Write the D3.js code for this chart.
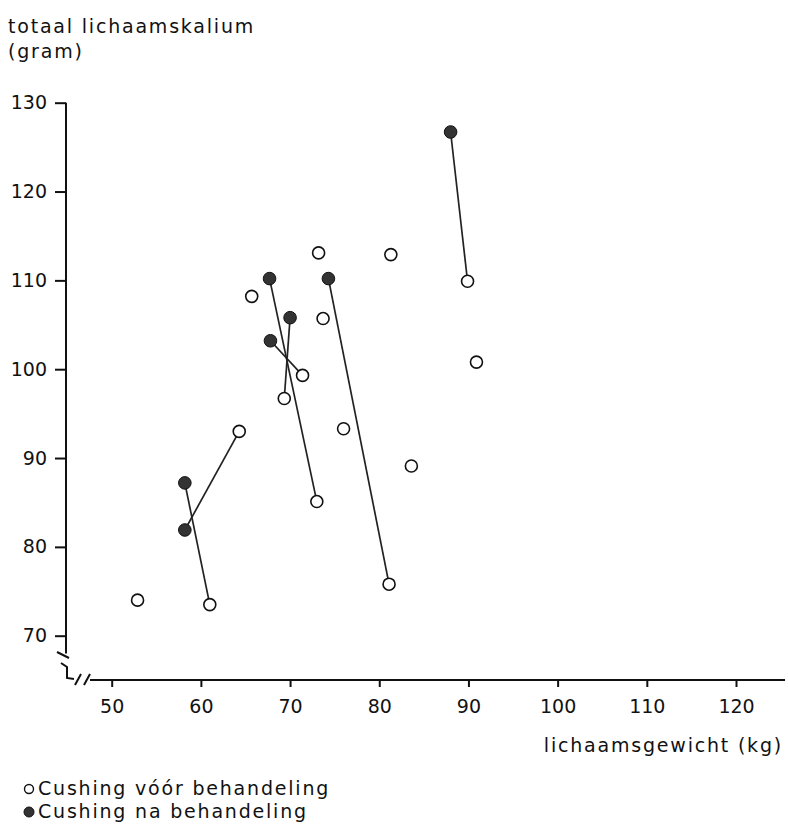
<!DOCTYPE html>
<html>
<head>
<meta charset="utf-8">
<script src="https://cdn.jsdelivr.net/npm/d3@7"></script>
<style>
  body { margin: 0; background: #fff; }
  text { font-family: "DejaVu Sans", sans-serif; fill: #111; }
</style>
</head>
<body>
<div id="chartcontainer"></div>
<script>
// lichaamsgewicht (kg) en totaal lichaamskalium (gram)
// the first 7 "voor" patients have a matching "na" point
var voorGewicht = [61.0, 64.3, 73.0, 69.35, 71.4, 81.1, 89.9, 52.9, 65.7, 73.2, 81.3, 73.7, 76.0, 83.6, 90.9],
    voorKalium  = [73.5, 93.0, 85.1, 96.7, 99.3, 75.8, 109.9, 74.0, 108.2, 113.1, 112.9, 105.7, 93.3, 89.1, 100.8];

var naGewicht = [58.2, 58.2, 67.7, 70.0, 67.8, 74.3, 88.0],
    naKalium  = [87.2, 81.9, 110.2, 105.8, 103.2, 110.2, 126.7];

var xTicks = [50, 60, 70, 80, 90, 100, 110, 120],
    yTicks = [70, 80, 90, 100, 110, 120, 130];

var legendLabels = ["Cushing vóór behandeling", "Cushing na behandeling"];

var width = 788, height = 829;

var x = d3.scaleLinear().domain([50, 120]).range([111.7, 736]),
    y = d3.scaleLinear().domain([70, 130]).range([635.7, 102.7]);

var axisX = 66, axisY = 680;

var labelFont = "19px", labelSpacing = "1.8px";

var svg = d3.select("#chartcontainer").append("svg")
    .attr("width", width)
    .attr("height", height);

// titel van de y-as
svg.append("text").attr("x", 8).attr("y", 33)
    .style("font-size", labelFont).style("letter-spacing", labelSpacing)
    .text("totaal lichaamskalium");
svg.append("text").attr("x", 8).attr("y", 58)
    .style("font-size", labelFont).style("letter-spacing", labelSpacing)
    .text("(gram)");

// y-as
svg.append("line")
    .attr("x1", axisX).attr("x2", axisX)
    .attr("y1", y(130)).attr("y2", y(68))
    .attr("stroke", "#111").attr("stroke-width", 2);

var gy = svg.append("g")
    .attr("transform", "translate(" + axisX + ",0)")
    .call(d3.axisLeft(y).tickValues(yTicks).tickSize(11).tickPadding(8).tickSizeOuter(0));
gy.select(".domain").remove();
gy.selectAll(".tick line").attr("stroke", "#111").attr("stroke-width", 2);
gy.selectAll(".tick text")
    .style("font-size", "19px").style("font-family", "DejaVu Sans, sans-serif");

// x-as
svg.append("line")
    .attr("x1", 90).attr("x2", x(125.5))
    .attr("y1", axisY).attr("y2", axisY)
    .attr("stroke", "#111").attr("stroke-width", 2);

var gx = svg.append("g")
    .attr("transform", "translate(0," + axisY + ")")
    .call(d3.axisBottom(x).tickValues(xTicks).tickSize(7).tickPadding(13).tickSizeOuter(0));
gx.select(".domain").remove();
gx.selectAll(".tick line").attr("stroke", "#111").attr("stroke-width", 2);
gx.selectAll(".tick text")
    .style("font-size", "19px").style("font-family", "DejaVu Sans, sans-serif");

// asbreuk
var brk = svg.append("g").attr("stroke", "#111").attr("stroke-width", 2).attr("fill", "none");
brk.append("path").attr("d", "M57,652 L69,658");
brk.append("path").attr("d", "M61,663 L67,667 L67,678 L74,679");
brk.append("path").attr("d", "M75,685 L81,674");
brk.append("path").attr("d", "M84,685 L90,674");

svg.append("text")
    .attr("x", 783).attr("y", 752)
    .attr("text-anchor", "end")
    .style("font-size", labelFont).style("letter-spacing", labelSpacing)
    .text("lichaamsgewicht (kg)");

// verbindingslijnen voor -> na
svg.append("g").selectAll("line")
    .data(naGewicht)
    .enter().append("line")
    .attr("x1", function (d, i) { return x(naGewicht[i]); })
    .attr("y1", function (d, i) { return y(naKalium[i]); })
    .attr("x2", function (d, i) { return x(voorGewicht[i]); })
    .attr("y2", function (d, i) { return y(voorKalium[i]); })
    .attr("stroke", "#222")
    .attr("stroke-width", 1.7);

svg.append("g").selectAll("circle")
    .data(voorGewicht)
    .enter().append("circle")
    .attr("cx", function (d) { return x(d); })
    .attr("cy", function (d, i) { return y(voorKalium[i]); })
    .attr("r", 6)
    .attr("fill", "#fff")
    .attr("stroke", "#111")
    .attr("stroke-width", 1.6);

svg.append("g").selectAll("circle")
    .data(naGewicht)
    .enter().append("circle")
    .attr("cx", function (d) { return x(d); })
    .attr("cy", function (d, i) { return y(naKalium[i]); })
    .attr("r", 6.3)
    .attr("fill", "#333")
    .attr("stroke", "#111")
    .attr("stroke-width", 1);

// legenda
var legend = svg.append("g");
legend.append("circle").attr("cx", 29).attr("cy", 789).attr("r", 4.5)
    .attr("fill", "#fff").attr("stroke", "#111").attr("stroke-width", 1.4);
legend.append("circle").attr("cx", 29).attr("cy", 812).attr("r", 5)
    .attr("fill", "#333").attr("stroke", "#111").attr("stroke-width", 1);
legend.selectAll("text")
    .data(legendLabels)
    .enter().append("text")
    .attr("x", 38)
    .attr("y", function (d, i) { return 795 + i * 23; })
    .style("font-size", labelFont).style("letter-spacing", labelSpacing)
    .text(function (d) { return d; });
</script>
</body>
</html>
